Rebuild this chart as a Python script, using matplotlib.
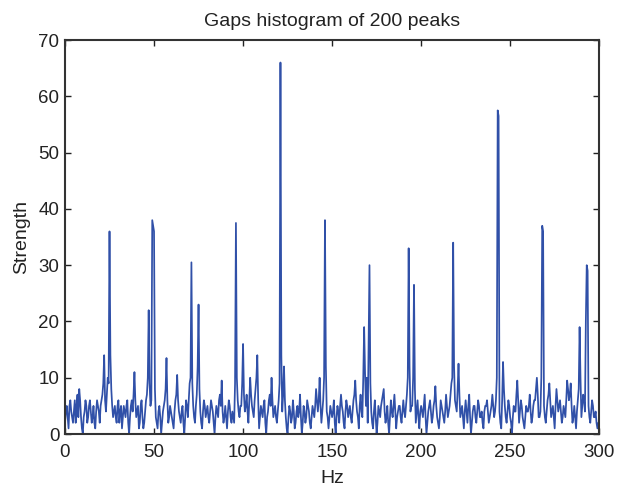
import numpy as np
import matplotlib
matplotlib.use("Agg")
import matplotlib.pyplot as plt

plt.rcParams['font.family'] = ['Liberation Sans', 'DejaVu Sans']

# Gap-histogram strength on whole-Hz bins, 0 .. 300 Hz
strength_whole = [
    2, 5, 1, 6, 3, 4, 2, 7, 8, 3,
    0, 4, 5, 3, 6, 2, 5, 1, 6, 4,
    5, 7, 14, 4, 10, 36, 8, 3, 5, 2,
    6, 4, 1, 5, 3, 6, 0, 5, 4, 11,
    3, 5, 2, 6, 1, 4, 7, 22, 5, 38,
    36, 3, 1, 5, 0, 4, 6, 13.5, 2, 5,
    3, 1, 6, 10.5, 4, 2, 5, 0, 6, 3,
    9, 30.5, 5, 2, 7, 23, 4, 1, 6, 3,
    5, 2, 6, 4, 0, 5, 3, 7, 9.5, 2,
    5, 1, 6, 3, 4, 2, 37.5, 6, 3, 5,
    16, 4, 7, 2, 10, 5, 3, 8, 14, 1,
    5, 3, 6, 0, 4, 7, 10, 3, 5, 2,
    6, 66, 4, 12, 3, 0, 5, 2, 6, 1,
    4, 3, 7, 0, 5, 2, 6, 4, 1, 5,
    3, 8, 4, 10, 2, 6, 38, 4, 1, 5,
    3, 6, 0, 5, 2, 7, 4, 1, 6, 3,
    5, 2, 6, 9.5, 4, 1, 7, 3, 19, 5,
    2, 30, 4, 1, 6, 0, 5, 3, 6, 8,
    2, 5, 0, 6, 3, 7, 1, 4, 5, 2,
    6, 3, 7, 33, 4, 5, 26.5, 2, 6, 1,
    5, 3, 7, 0, 4, 6, 2, 5, 8.5, 3,
    1, 6, 4, 2, 7, 3, 5, 9, 34, 6,
    4, 12.5, 3, 5, 1, 6, 2, 7, 0, 4,
    5, 2, 6, 3, 4, 1, 5, 6, 2, 4,
    7, 3, 6, 57.5, 4, 1, 12.8, 5, 2, 6,
    3, 0, 5, 4, 9.5, 2, 6, 3, 1, 5,
    4, 7, 2, 5, 6, 10, 3, 4, 37, 5,
    2, 6, 9, 3, 5, 1, 8, 4, 6, 2,
    5, 3, 9.5, 6, 9, 2, 5, 1, 6, 19,
    3, 7, 4, 30, 5, 2, 6, 3, 4, 1,
    2,
]

# Strength on the half-Hz bins in between, 0.5 .. 299.5 Hz
strength_half = [
    4, 3, 5, 4, 2, 6, 5, 3, 6, 1,
    3, 6, 2, 5, 4, 3, 2, 4, 5, 2,
    6, 9, 6, 7, 9, 14, 5, 4, 3, 5,
    2, 5, 3, 4, 5, 2, 3, 6, 7, 6,
    4, 1, 5, 3, 2, 6, 10, 9, 6, 37,
    8, 2, 4, 3, 2, 5, 8, 6, 3, 4,
    2, 4, 7, 6, 3, 4, 2, 3, 5, 6,
    10, 9, 3, 5, 12, 8, 2, 4, 5, 4,
    3, 4, 5, 2, 3, 4, 6, 5, 4, 3,
    3, 4, 5, 2, 3, 9, 10, 4, 5, 9,
    7, 5, 4, 6, 7, 4, 6, 10, 6, 3,
    4, 5, 2, 3, 6, 5, 6, 4, 3, 4,
    9, 14, 7, 6, 1, 3, 4, 3, 4, 2,
    5, 4, 3, 2, 4, 3, 5, 2, 3, 4,
    5, 6, 6, 5, 4, 10, 12, 3, 3, 4,
    4, 2, 3, 4, 5, 5, 2, 4, 5, 4,
    3, 4, 7, 6, 3, 5, 4, 10, 11, 10,
    16, 9, 2, 4, 3, 2, 4, 5, 7, 4,
    3, 2, 3, 4, 5, 4, 3, 5, 3, 4,
    4, 5, 10, 12, 5, 10, 8, 4, 3, 4,
    4, 5, 3, 2, 5, 4, 3, 6, 5, 2,
    3, 5, 3, 4, 5, 4, 7, 10, 12, 5,
    8, 7, 4, 3, 4, 4, 5, 3, 2, 5,
    3, 4, 5, 3, 2, 4, 5, 4, 3, 5,
    5, 4, 10, 56.5, 2, 6, 8, 3, 4, 5,
    2, 3, 4, 7, 6, 4, 5, 2, 3, 4,
    5, 4, 3, 6, 8, 7, 3, 10, 36, 3,
    4, 7, 6, 4, 3, 5, 6, 5, 4, 3,
    4, 6, 8, 7, 5, 3, 3, 4, 8, 10,
    5, 6, 20, 29, 3, 4, 5, 3, 2, 2,
]

x_ticks = [0, 50, 100, 150, 200, 250, 300]
y_ticks = [0, 10, 20, 30, 40, 50, 60, 70]

# interleave the whole- and half-Hz bins into one spectrum
freq_hz = np.arange(0, 300.5, 0.5)
strength = np.empty(freq_hz.size)
strength[0::2] = strength_whole
strength[1::2] = strength_half

fig = plt.figure(figsize=(6.19, 4.91), dpi=100)
ax = fig.add_axes([0.105, 0.116, 0.863, 0.8025])

ax.plot(freq_hz, strength, color='#3050a8', linewidth=1.25)

ax.set_xlim(0, 300)
ax.set_ylim(0, 70)
ax.set_xticks(x_ticks)
ax.set_yticks(y_ticks)
ax.tick_params(direction='in', top=True, right=True, length=4, width=1,
               labelsize=13.5, colors='#222222')
ax.tick_params(axis='x', pad=7)
ax.tick_params(axis='y', pad=4)
for s in ax.spines.values():
    s.set_linewidth(1.5)
    s.set_color('#333333')

ax.set_title('Gaps histogram of 200 peaks', fontsize=14, color='#222222', pad=10)
ax.set_xlabel('Hz', fontsize=14, color='#222222', labelpad=7)
ax.set_ylabel('Strength', fontsize=14, color='#222222', labelpad=6)

fig.savefig('out.png', dpi=100)
